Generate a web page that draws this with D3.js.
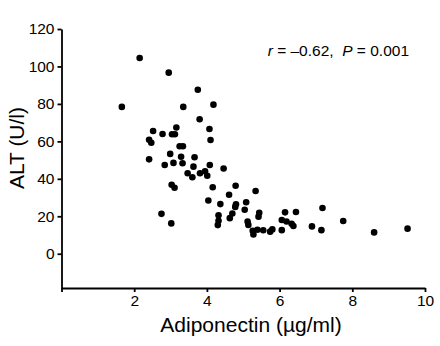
<!DOCTYPE html>
<html>
<head>
<meta charset="utf-8">
<script src="https://d3js.org/d3.v7.min.js"></script>
<style>
    body { margin: 0; background: #fff; }
    svg text { font-family: "Liberation Sans", Arial, Helvetica, sans-serif; fill: #000; }
    .axis path, .axis line { stroke: #000; stroke-width: 1.8; }
    .axis text { font-size: 15.5px; }
</style>
</head>
<body>
<div id="chart"></div>
<script>
// adiponectin (ug/ml) vs ALT (U/l)
var adiponectin = [1.66, 2.15, 2.95, 3.75, 3.35, 4.18, 3.80, 2.52, 3.16, 2.78,
    3.04, 3.12, 4.07, 2.41, 2.47, 4.10, 3.25, 3.34, 2.41, 2.99,
    3.29, 3.66, 2.84, 3.08, 3.33, 3.63, 4.08, 4.46, 3.47, 3.60,
    3.81, 3.95, 4.01, 3.03, 3.11, 4.16, 4.79, 5.34, 4.61, 4.04,
    4.37, 4.80, 4.78, 5.08, 5.04, 2.75, 3.02, 4.32, 4.32, 4.30,
    4.70, 4.63, 5.44, 5.42, 5.12, 5.14, 5.26, 5.28, 5.39, 5.55,
    5.74, 5.80, 6.06, 6.15, 6.45, 7.18, 6.06, 6.19, 6.33, 6.38,
    6.89, 7.15, 7.75, 8.60, 9.52];
var alt = [78.4, 104.5, 96.7, 87.6, 78.4, 79.6, 71.8, 65.5, 67.4, 63.9,
    63.8, 63.8, 66.6, 60.8, 59.3, 60.7, 57.4, 57.4, 50.4, 53.3,
    51.8, 51.5, 47.4, 48.5, 48.3, 46.5, 47.4, 45.5, 43.0, 40.8,
    43.0, 44.0, 41.6, 36.8, 35.2, 35.5, 36.3, 33.5, 31.5, 28.4,
    26.5, 26.4, 25.0, 27.5, 23.5, 21.3, 16.2, 20.5, 17.6, 15.3,
    21.5, 19.0, 21.9, 19.8, 17.2, 15.4, 12.3, 10.3, 12.8, 12.5,
    11.8, 13.0, 12.6, 22.1, 22.3, 24.4, 18.0, 17.2, 16.0, 14.8,
    14.6, 12.6, 17.5, 11.4, 13.4];

var xTicks = [0, 2, 4, 6, 8, 10];
var yTicks = [0, 20, 40, 60, 80, 100, 120];
var statsLabel = ["r", " = \u20130.62,  ", "P", " = 0.001"];

var w = 440,
    h = 346;

var svg = d3.select("#chart")
    .append("svg")
    .attr("width", w)
    .attr("height", h);

var xScale = d3.scaleLinear()
    .domain([0, 10])
    .range([61.5, 425]);

var yScale = d3.scaleLinear()
    .domain([-18.3, 120])
    .range([288, 29]);

// x axis, no label under the 0 tick
var xAxis = d3.axisBottom(xScale)
    .tickValues(xTicks)
    .tickSize(4)
    .tickSizeOuter(0)
    .tickPadding(3)
    .tickFormat(function (d) { return d === 0 ? "" : d; });

svg.append("g")
    .attr("class", "axis")
    .attr("transform", "translate(0,288)")
    .call(xAxis);

var yAxis = d3.axisLeft(yScale)
    .tickValues(yTicks)
    .tickSize(4)
    .tickSizeOuter(0)
    .tickPadding(3);

svg.append("g")
    .attr("class", "axis")
    .attr("transform", "translate(61.5,0)")
    .call(yAxis);

// points
svg.append("g")
    .selectAll("circle")
    .data(adiponectin)
    .enter()
    .append("circle")
    .attr("cx", function (d) { return xScale(d); })
    .attr("cy", function (d, i) { return yScale(alt[i]); })
    .attr("r", 3.3)
    .attr("fill", "#000");

// axis titles
svg.append("text")
    .attr("x", 251)
    .attr("y", 332)
    .attr("text-anchor", "middle")
    .style("font-size", "21px")
    .text("Adiponectin (\u00b5g/ml)");

svg.append("text")
    .attr("transform", "translate(24,148) rotate(-90)")
    .attr("text-anchor", "middle")
    .style("font-size", "21px")
    .text("ALT (U/l)");

// correlation note
var note = svg.append("text")
    .attr("x", 409)
    .attr("y", 56)
    .attr("text-anchor", "end")
    .style("font-size", "15.5px")
    .attr("xml:space", "preserve")
    .style("white-space", "pre");

note.selectAll("tspan")
    .data(statsLabel)
    .enter()
    .append("tspan")
    .style("font-style", function (d, i) { return i % 2 === 0 ? "italic" : "normal"; })
    .text(function (d) { return d; });
</script>
</body>
</html>
